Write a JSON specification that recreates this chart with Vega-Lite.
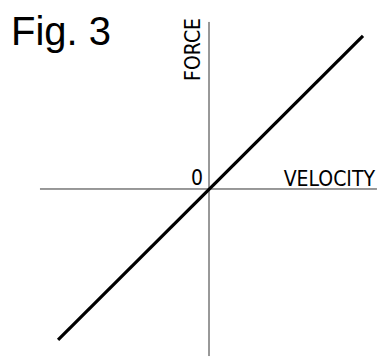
{
  "$schema": "https://vega.github.io/schema/vega-lite/v6.json",
  "width": 378,
  "height": 360,
  "autosize": {"type": "fit", "contains": "padding"},
  "padding": 0,
  "background": "white",
  "view": {"stroke": null},
  "config": {"axis": {"disable": true}},
  "layer": [
    {
      "data": {"values": [{"x": -1.112, "x2": 1.105, "y": 0}]},
      "mark": {"type": "rule", "color": "#333333", "strokeWidth": 1},
      "encoding": {
        "x": {"field": "x", "type": "quantitative", "scale": {"domain": [-1.375, 1.1118], "nice": false, "zero": false}, "axis": null},
        "x2": {"field": "x2"},
        "y": {"field": "y", "type": "quantitative", "scale": {"domain": [-1.125, 1.2434], "nice": false, "zero": false}, "axis": null}
      }
    },
    {
      "data": {"values": [{"x": 0, "y": -1.099, "y2": 1.099}]},
      "mark": {"type": "rule", "color": "#333333", "strokeWidth": 1},
      "encoding": {
        "x": {"field": "x", "type": "quantitative"},
        "y": {"field": "y", "type": "quantitative"},
        "y2": {"field": "y2"}
      }
    },
    {
      "data": {"values": [{"velocity": -0.993, "force": -0.993}, {"velocity": 1.013, "force": 1.007}]},
      "mark": {"type": "line", "color": "black", "strokeWidth": 3.2},
      "encoding": {
        "x": {"field": "velocity", "type": "quantitative"},
        "y": {"field": "force", "type": "quantitative"}
      }
    },
    {
      "data": {"values": [{"x": -1.303, "y": 0.947, "t": "Fig. 3"}]},
      "mark": {"type": "text", "font": "Liberation Sans", "fontSize": 40, "align": "left", "baseline": "alphabetic", "color": "black"},
      "encoding": {
        "x": {"field": "x", "type": "quantitative"},
        "y": {"field": "y", "type": "quantitative"},
        "text": {"field": "t"}
      }
    },
    {
      "data": {"values": [{"x": -0.059, "y": 0.711, "t": "FORCE"}]},
      "mark": {"type": "text", "font": "DejaVu Sans Condensed", "fontSize": 21, "angle": 270, "align": "left", "baseline": "alphabetic", "color": "black"},
      "encoding": {
        "x": {"field": "x", "type": "quantitative"},
        "y": {"field": "y", "type": "quantitative"},
        "text": {"field": "t"}
      }
    },
    {
      "data": {"values": [{"x": 1.092, "y": 0.0197, "t": "VELOCITY"}, {"x": -0.039, "y": 0.026, "t": "0"}]},
      "mark": {"type": "text", "font": "DejaVu Sans Condensed", "fontSize": 21, "align": "right", "baseline": "alphabetic", "color": "black"},
      "encoding": {
        "x": {"field": "x", "type": "quantitative"},
        "y": {"field": "y", "type": "quantitative"},
        "text": {"field": "t"}
      }
    }
  ]
}
